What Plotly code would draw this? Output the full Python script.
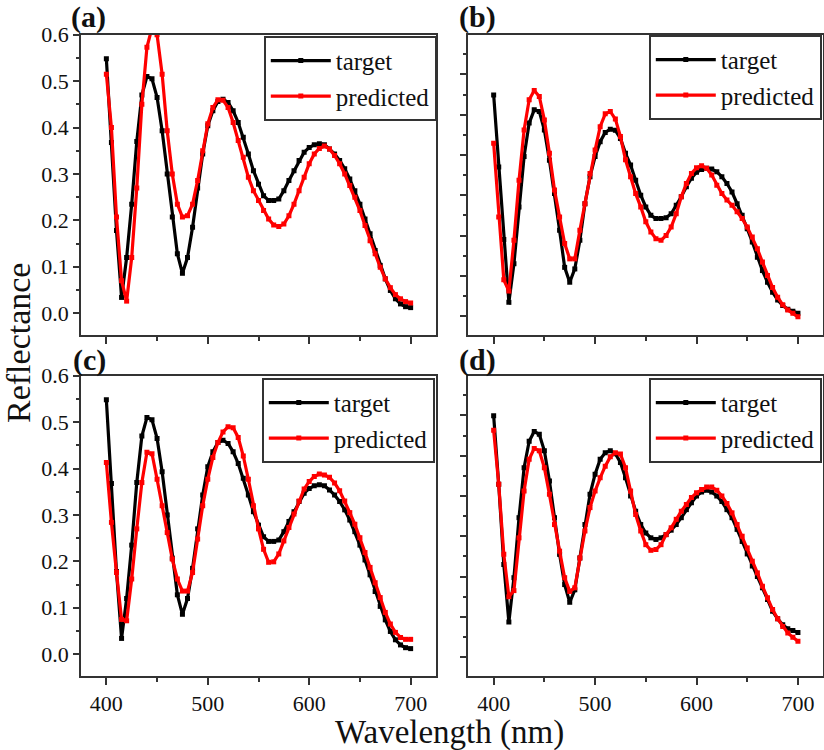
import plotly.graph_objects as go

# ---------------- data ----------------
wavelength = list(range(400, 701, 5))

# panel (a) and (c) share the same target spectrum
target_ac = [0.548, 0.368, 0.178, 0.034, 0.120, 0.235, 0.370, 0.470, 0.510, 0.505,
             0.465, 0.393, 0.300, 0.207, 0.128, 0.086, 0.120, 0.185, 0.270, 0.343,
             0.404, 0.436, 0.456, 0.461, 0.454, 0.436, 0.411, 0.379, 0.343, 0.307,
             0.278, 0.253, 0.243, 0.243, 0.246, 0.264, 0.286, 0.307, 0.329, 0.347,
             0.357, 0.363, 0.365, 0.363, 0.354, 0.343, 0.329, 0.311, 0.289, 0.264,
             0.235, 0.203, 0.171, 0.135, 0.103, 0.074, 0.049, 0.031, 0.020, 0.014,
             0.012]
predicted_a = [0.515, 0.400, 0.207, 0.070, 0.026, 0.120, 0.270, 0.450, 0.573, 0.615,
               0.600, 0.515, 0.393, 0.300, 0.235, 0.207, 0.210, 0.235, 0.286, 0.350,
               0.408, 0.443, 0.460, 0.459, 0.443, 0.411, 0.372, 0.336, 0.293, 0.264,
               0.243, 0.221, 0.203, 0.190, 0.187, 0.192, 0.210, 0.235, 0.264, 0.293,
               0.322, 0.343, 0.355, 0.360, 0.354, 0.340, 0.322, 0.300, 0.275, 0.250,
               0.221, 0.189, 0.156, 0.128, 0.099, 0.074, 0.055, 0.040, 0.031, 0.025,
               0.022]
target_b = [0.549, 0.370, 0.190, 0.034, 0.130, 0.271, 0.396, 0.479, 0.512, 0.508,
            0.462, 0.387, 0.304, 0.213, 0.121, 0.084, 0.117, 0.188, 0.279, 0.346,
            0.396, 0.433, 0.456, 0.464, 0.461, 0.441, 0.404, 0.375, 0.337, 0.300,
            0.271, 0.250, 0.242, 0.242, 0.244, 0.254, 0.275, 0.296, 0.321, 0.342,
            0.357, 0.364, 0.367, 0.365, 0.358, 0.346, 0.329, 0.308, 0.279, 0.250,
            0.217, 0.184, 0.146, 0.113, 0.084, 0.059, 0.040, 0.026, 0.017, 0.012,
            0.007]
predicted_b = [0.429, 0.246, 0.090, 0.062, 0.188, 0.337, 0.462, 0.537, 0.560, 0.545,
               0.487, 0.404, 0.313, 0.246, 0.180, 0.142, 0.142, 0.213, 0.279, 0.354,
               0.412, 0.470, 0.502, 0.508, 0.489, 0.446, 0.388, 0.346, 0.304, 0.271,
               0.234, 0.209, 0.192, 0.188, 0.200, 0.221, 0.254, 0.296, 0.329, 0.354,
               0.368, 0.373, 0.367, 0.350, 0.325, 0.304, 0.288, 0.275, 0.259, 0.242,
               0.221, 0.196, 0.167, 0.134, 0.101, 0.071, 0.047, 0.028, 0.015, 0.007,
               -0.002]
predicted_c = [0.413, 0.284, 0.176, 0.075, 0.072, 0.162, 0.270, 0.370, 0.435, 0.432,
               0.377, 0.320, 0.262, 0.205, 0.162, 0.136, 0.136, 0.176, 0.248, 0.320,
               0.377, 0.424, 0.456, 0.479, 0.490, 0.488, 0.467, 0.427, 0.377, 0.320,
               0.270, 0.226, 0.198, 0.199, 0.216, 0.244, 0.273, 0.302, 0.330, 0.356,
               0.372, 0.383, 0.388, 0.386, 0.381, 0.369, 0.352, 0.330, 0.305, 0.280,
               0.251, 0.219, 0.187, 0.154, 0.122, 0.090, 0.065, 0.047, 0.036, 0.032,
               0.032]
target_d = [0.599, 0.429, 0.230, 0.087, 0.197, 0.346, 0.470, 0.536, 0.560, 0.553,
            0.512, 0.437, 0.346, 0.255, 0.180, 0.136, 0.167, 0.246, 0.329, 0.404,
            0.454, 0.491, 0.507, 0.512, 0.505, 0.483, 0.445, 0.400, 0.362, 0.329,
            0.308, 0.296, 0.292, 0.296, 0.304, 0.315, 0.329, 0.346, 0.366, 0.383,
            0.400, 0.410, 0.414, 0.410, 0.400, 0.386, 0.366, 0.346, 0.317, 0.287,
            0.256, 0.226, 0.200, 0.172, 0.143, 0.114, 0.095, 0.080, 0.070, 0.066,
            0.061]
predicted_d = [0.563, 0.429, 0.255, 0.150, 0.165, 0.296, 0.412, 0.491, 0.518, 0.512,
               0.470, 0.404, 0.329, 0.263, 0.197, 0.163, 0.172, 0.246, 0.313, 0.371,
               0.412, 0.445, 0.474, 0.497, 0.507, 0.504, 0.470, 0.412, 0.354, 0.313,
               0.279, 0.265, 0.267, 0.279, 0.304, 0.321, 0.342, 0.362, 0.379, 0.396,
               0.408, 0.416, 0.422, 0.422, 0.414, 0.400, 0.381, 0.358, 0.329, 0.300,
               0.271, 0.238, 0.209, 0.176, 0.147, 0.118, 0.095, 0.076, 0.060, 0.049,
               0.039]

panel_labels = ["(a)", "(b)", "(c)", "(d)"]
series_names = ["target", "predicted"]
x_tick_values = [400, 500, 600, 700]
y_tick_values = [0.0, 0.1, 0.2, 0.3, 0.4, 0.5, 0.6]

# ---------------- styling ----------------
W, H = 824, 750
FONT = "Liberation Serif, Times New Roman, serif"
AX = "#333333"


def fx(px):
    return px / W


def fy(py):
    return 1 - py / H


fig = go.Figure()

panels = [
    ("x", "y", target_ac, predicted_a, "legend"),
    ("x2", "y2", target_b, predicted_b, "legend2"),
    ("x3", "y3", target_ac, predicted_c, "legend3"),
    ("x4", "y4", target_d, predicted_d, "legend4"),
]
for xa, ya, tgt, prd, lg in panels:
    fig.add_trace(go.Scatter(
        x=wavelength, y=tgt, xaxis=xa, yaxis=ya, name=series_names[0], legend=lg,
        mode="lines+markers", line=dict(color="#000000", width=3.2),
        marker=dict(symbol="square", size=5, color="#000000")))
    fig.add_trace(go.Scatter(
        x=wavelength, y=prd, xaxis=xa, yaxis=ya, name=series_names[1], legend=lg,
        mode="lines+markers", line=dict(color="#ff0000", width=3.2),
        marker=dict(symbol="square", size=5, color="#ff0000")))


def xaxis(domain, labels, anchor):
    return dict(domain=domain, anchor=anchor, range=[375, 725], automargin=False,
                tickmode="array", tickvals=x_tick_values, showticklabels=labels,
                ticks="outside", ticklen=7, tickwidth=1.5, tickcolor=AX,
                showline=True, linecolor=AX, linewidth=1.8, mirror=True,
                showgrid=False, zeroline=False,
                tickfont=dict(family=FONT, size=22, color="#111111"),
                minor=dict(ticks="outside", ticklen=4, tickwidth=1.5, tickcolor=AX,
                           dtick=50, tick0=0, showgrid=False))


def yaxis(domain, labels, anchor, rng):
    return dict(domain=domain, anchor=anchor, range=rng, automargin=False,
                tickmode="array", tickvals=y_tick_values, showticklabels=labels,
                tickformat=".1f",
                ticks="outside", ticklen=6, tickwidth=1.5, tickcolor=AX,
                showline=True, linecolor=AX, linewidth=1.8, mirror=True,
                showgrid=False, zeroline=False,
                tickfont=dict(family=FONT, size=22, color="#111111"),
                minor=dict(ticks="outside", ticklen=3.5, tickwidth=1.5, tickcolor=AX,
                           dtick=0.05, tick0=0, showgrid=False))


xl = [fx(81), fx(436)]
xr = [fx(468.3), fx(823.3)]
yt = [fy(335), fy(34.5)]
yb = [fy(676), fy(375.5)]
left_range = [-0.047, 0.6005]
right_range = [-0.047, 0.699]

legend_common = dict(
    xanchor="left", yanchor="top", bgcolor="white", bordercolor=AX, borderwidth=1.8,
    font=dict(family=FONT, size=25, color="#111111"), itemwidth=60,
    tracegroupgap=0)

fig.update_layout(
    width=W, height=H, margin=dict(l=0, r=0, t=0, b=0, autoexpand=False),
    paper_bgcolor="white", plot_bgcolor="white",
    xaxis=xaxis(xl, False, "y"), yaxis=yaxis(yt, True, "x", left_range),
    xaxis2=xaxis(xr, False, "y2"), yaxis2=yaxis(yt, False, "x2", right_range),
    xaxis3=xaxis(xl, True, "y3"), yaxis3=yaxis(yb, True, "x3", left_range),
    xaxis4=xaxis(xr, True, "y4"), yaxis4=yaxis(yb, False, "x4", right_range),
    legend=dict(x=fx(264), y=fy(36), **legend_common),
    legend2=dict(x=fx(649), y=fy(35), **legend_common),
    legend3=dict(x=fx(262), y=fy(378), **legend_common),
    legend4=dict(x=fx(649), y=fy(378), **legend_common),
    showlegend=True,
)

annotations = []
for lab, (cx, cy) in zip(panel_labels, [(88.5, 17), (477, 17), (89, 360), (478, 360)]):
    annotations.append(dict(text="<b>%s</b>" % lab, x=fx(cx), y=fy(cy), xref="paper", yref="paper",
                            xanchor="center", yanchor="middle", showarrow=False,
                            font=dict(family=FONT, size=30, color="#111111")))
annotations.append(dict(text="Wavelength (nm)", x=fx(449), y=fy(732), xref="paper", yref="paper",
                        xanchor="center", yanchor="middle", showarrow=False,
                        font=dict(family=FONT, size=33, color="#111111")))
annotations.append(dict(text="Reflectance", x=fx(18), y=fy(343), xref="paper", yref="paper",
                        xanchor="center", yanchor="middle", showarrow=False, textangle=-90,
                        font=dict(family=FONT, size=34, color="#111111")))
fig.update_layout(annotations=annotations)

fig.write_html("out.html", config={"displayModeBar": False},
               post_script="document.body.style.margin='0';")
